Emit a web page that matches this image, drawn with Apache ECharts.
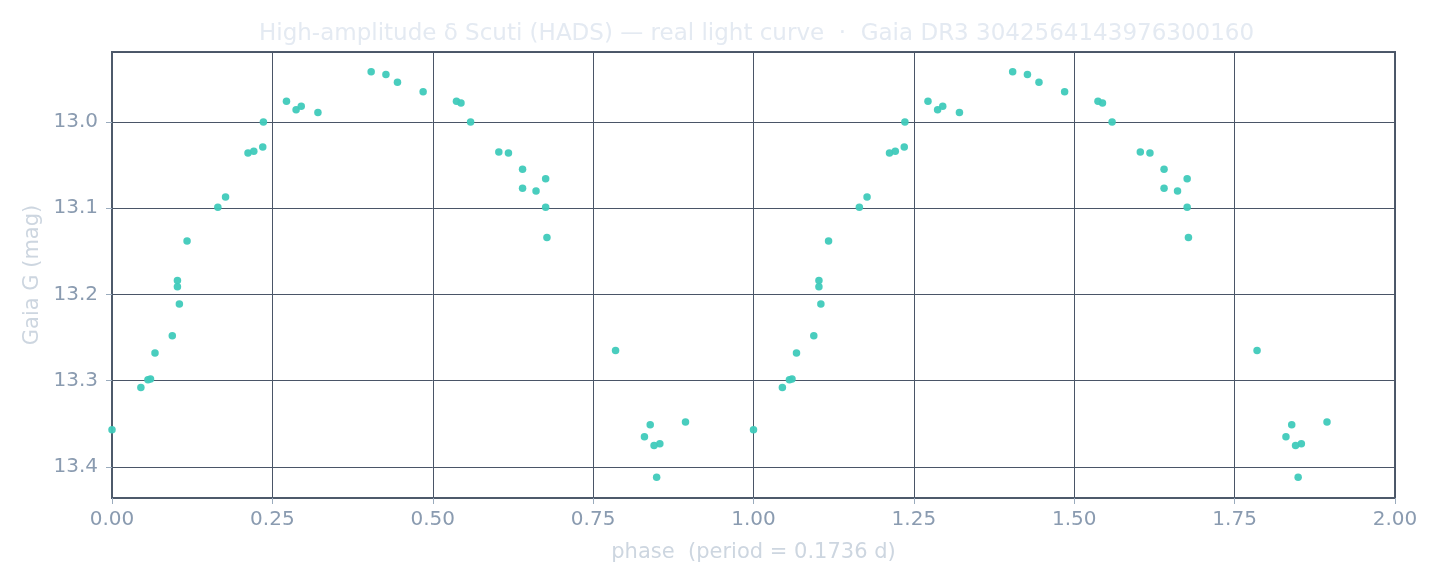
<!DOCTYPE html>
<html>
<head>
<meta charset="utf-8">
<script src="https://cdn.jsdelivr.net/npm/echarts@6/dist/echarts.min.js"></script>
<style>
  html, body { margin: 0; padding: 0; background: #ffffff; }
  #chart { width: 1440px; height: 585px; }
</style>
</head>
<body>
<div id="chart"></div>
<script>
// phase in [0,1) and Gaia G magnitude
var phase = [0.000, 0.045, 0.056, 0.060, 0.067, 0.094, 0.102, 0.102, 0.105, 0.117,
             0.165, 0.177, 0.212, 0.221, 0.235, 0.236, 0.272, 0.287, 0.295, 0.321,
             0.404, 0.427, 0.445, 0.485, 0.537, 0.544, 0.559, 0.603, 0.618, 0.640,
             0.676, 0.640, 0.661, 0.676, 0.678, 0.785, 0.839, 0.894, 0.830, 0.854,
             0.845, 0.849];
var mag   = [13.357, 13.308, 13.299, 13.298, 13.268, 13.248, 13.184, 13.191, 13.211, 13.138,
             13.099, 13.087, 13.036, 13.034, 13.029, 13.000, 12.976, 12.986, 12.982, 12.989,
             12.942, 12.945, 12.954, 12.965, 12.976, 12.978, 13.000, 13.035, 13.036, 13.055,
             13.066, 13.077, 13.080, 13.099, 13.134, 13.265, 13.351, 13.348, 13.365, 13.373,
             13.375, 13.412];
var xTicks = [0, 0.25, 0.5, 0.75, 1, 1.25, 1.5, 1.75, 2];

// light curve is shown twice: phase and phase + 1
var points = [];
for (var i = 0; i < phase.length; i++) points.push([phase[i], mag[i]]);
for (var j = 0; j < phase.length; j++) points.push([phase[j] + 1, mag[j]]);

var font = 'DejaVu Sans';
var myChart = echarts.init(document.getElementById('chart'));
var option = {
    backgroundColor: '#ffffff',
    animation: false,
    title: {
        text: 'High-amplitude δ Scuti (HADS) — real light curve  ·  Gaia DR3 3042564143976300160',
        left: 254,
        top: 18,
        textStyle: { color: '#e4eaf2', fontSize: 23, fontWeight: 'normal', fontFamily: font }
    },
    grid: {
        left: 112, right: 45, top: 52, bottom: 87,
        show: true, borderColor: '#4e5a6b', borderWidth: 2, backgroundColor: 'transparent'
    },
    xAxis: {
        type: 'value',
        min: xTicks[0], max: xTicks[xTicks.length - 1], interval: 0.25,
        name: 'phase  (period = 0.1736 d)',
        nameLocation: 'middle', nameGap: 44,
        nameTextStyle: { color: '#cdd6e0', fontSize: 21, fontFamily: font },
        axisLine: { show: true, lineStyle: { color: '#4e5a6b', width: 2 } },
        axisTick: { show: true, length: 6, lineStyle: { color: '#9aabbd' } },
        axisLabel: { color: '#8a9bb0', fontSize: 20, fontFamily: font, margin: 12,
                     formatter: function (v) { return v.toFixed(2); } },
        splitLine: { show: true, lineStyle: { color: '#4a5567', width: 1 } }
    },
    yAxis: {
        type: 'value',
        inverse: true,
        min: 12.919, max: 13.436, splitNumber: 5,
        name: 'Gaia G (mag)',
        nameLocation: 'middle', nameGap: 69,
        nameTextStyle: { color: '#cdd6e0', fontSize: 21, fontFamily: font },
        axisLine: { show: true, lineStyle: { color: '#4e5a6b', width: 2 } },
        axisTick: { show: true, length: 6, lineStyle: { color: '#9aabbd' } },
        axisLabel: { color: '#8a9bb0', fontSize: 20, fontFamily: font, margin: 14,
                     showMinLabel: false, showMaxLabel: false,
                     formatter: function (v) { return v.toFixed(1); } },
        splitLine: { show: true, lineStyle: { color: '#4a5567', width: 1 } }
    },
    series: [{
        type: 'scatter',
        data: points,
        symbolSize: 7.5,
        itemStyle: { color: '#3fcabb', opacity: 0.95 }
    }]
};
myChart.setOption(option);
</script>
</body>
</html>
